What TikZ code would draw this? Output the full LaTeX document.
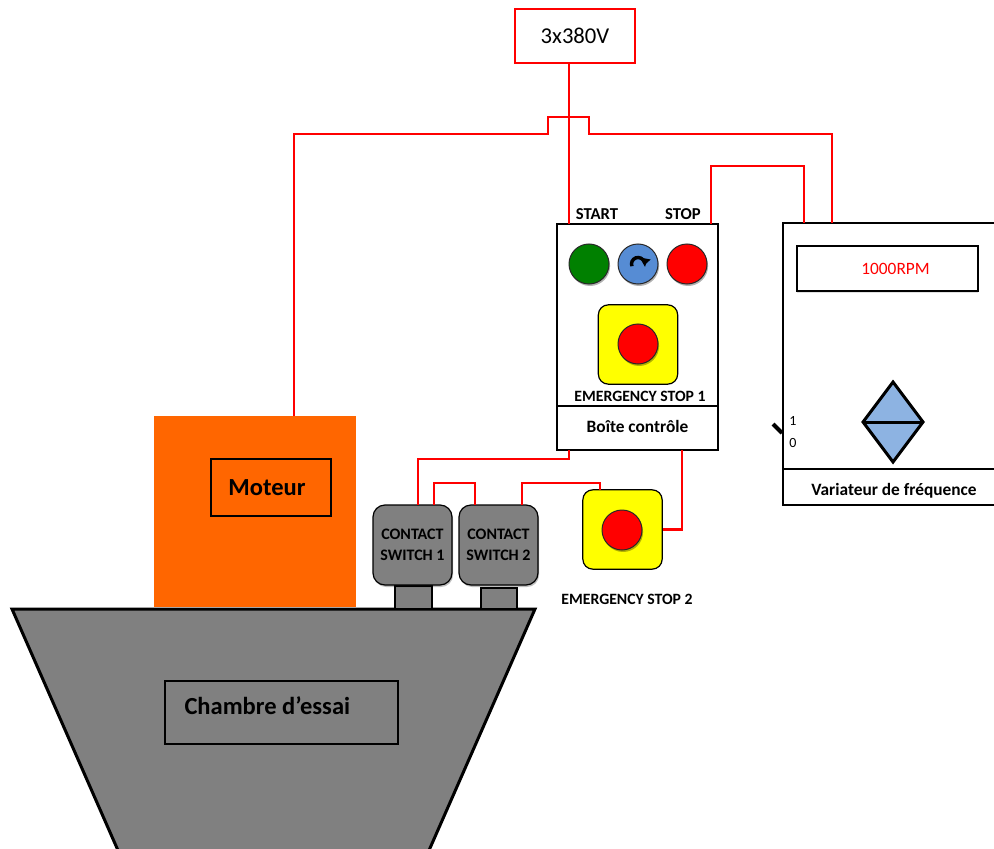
\documentclass[tikz,border=0pt]{standalone}
\usepackage{fontspec}
\setmainfont{Carlito}
\usetikzlibrary{shadows,arrows.meta}

\tikzset{every picture/.style={line width=0.75pt}}
\tikzset{
  wire/.style={draw={rgb, 255:red, 255; green, 0; blue, 0}, line width=1.6pt},
  panel/.style={draw, line width=1.2pt, fill=white, inner sep=0pt},
  knob/.style={circle, draw={rgb, 255:red, 40; green, 40; blue, 40}, line width=0.75pt, minimum size=30pt, inner sep=0pt,
    drop shadow={shadow xshift=0.8pt, shadow yshift=-1.5pt, fill=black, opacity=0.3}},
  estop/.style={draw, line width=0.9pt, rounded corners=7.5pt, fill={rgb, 255:red, 255; green, 255; blue, 0}, minimum size=59.5pt, inner sep=0pt},
  switchbox/.style={draw, line width=0.9pt, rounded corners=9pt, fill={rgb, 255:red, 128; green, 128; blue, 128}, minimum width=59.25pt, minimum height=60pt,
    align=center, font=\bfseries\fontsize{12}{15.75}\selectfont,
    drop shadow={shadow xshift=0.8pt, shadow yshift=-1.5pt, fill=black, opacity=0.25}},
  small/.style={font=\bfseries\fontsize{11.8}{13}\selectfont, inner sep=0.75pt},
  title/.style={font=\bfseries\fontsize{13}{15}\selectfont, inner sep=0.75pt},
  big/.style={font=\bfseries\fontsize{18.4}{21}\selectfont, inner sep=0.75pt}
}

\begin{document}
\begin{tikzpicture}[x=0.75pt,y=0.75pt,yscale=-1,xscale=1]
\useasboundingbox (0,0) rectangle (994,848);

%Shape: Trapezoid [chamber]
\draw [line width=2.25pt, fill={rgb, 255:red, 128; green, 128; blue, 128}] (12,609) -- (535,609) -- (420.4,870) -- (126.6,870) -- cycle;
\node [draw, line width=1.1pt, minimum width=174.75pt, minimum height=47.25pt] (chamberlbl) at (281.5,712.5) {};
\node [big, anchor=west] (chambertxt) at (183,706) {Chambre d’essai};

%Shape: Rectangle [motor]
\node [fill={rgb, 255:red, 255; green, 102; blue, 0}, minimum width=151.5pt, minimum height=143.25pt] (motor) at (255,511.5) {};
\node [draw, line width=1.1pt, minimum width=90pt, minimum height=42.75pt, big] (motorlbl) at (271,487.5) {\hspace{-6pt}Moteur};

%Supply
\node [draw={rgb, 255:red, 255; green, 0; blue, 0}, line width=1.1pt, minimum width=90pt, minimum height=40.5pt, font=\fontsize{17}{20}\selectfont] (supply) at (575,36) {3x380V};

%Control box
\node [panel, minimum width=120.75pt, minimum height=169.5pt,
  drop shadow={shadow xshift=1pt, shadow yshift=-1pt, fill=black, opacity=0.2}] (ctrl) at (637.5,337) {};
\draw [line width=1.2pt] (ctrl.west |- 0,406) -- (ctrl.east |- 0,406);
\node [knob, fill={rgb, 255:red, 0; green, 128; blue, 0}] (start) at (589,264) {};
\node [knob, fill={rgb, 255:red, 86; green, 140; blue, 212}] (reset) at (638,264) {};
\node [knob, fill={rgb, 255:red, 255; green, 0; blue, 0}] (stop) at (687,264) {};
\draw [line width=2.6pt, -{Triangle[length=5pt,width=7.5pt]}] ([shift={(160:6.5)}]reset.center) arc [start angle=160, end angle=370, radius=6.5];
\node [estop] (es1) at (638,344.5) {};
\node [knob, fill={rgb, 255:red, 255; green, 0; blue, 0}] (es1btn) at (638,344) {};
\node [small] (es1lbl) at (640,396) {EMERGENCY STOP 1};
\node [title] (ctrllbl) at (637.5,426) {Boîte contrôle};
\node [title, font=\bfseries\fontsize{12.5}{15}\selectfont] (startlbl) at (597,214) {START};
\node [title, font=\bfseries\fontsize{12.5}{15}\selectfont] (stoplbl) at (683,214) {STOP};

%Frequency drive
\node [panel, minimum width=170.25pt, minimum height=211.5pt,
  drop shadow={shadow xshift=1pt, shadow yshift=-1pt, fill=black, opacity=0.2}] (vfd) at (896.5,364) {};
\draw [line width=1.2pt] (vfd.west |- 0,469) -- (vfd.east |- 0,469);
\node [draw, line width=0.9pt, minimum width=135.75pt, minimum height=33.75pt,
  drop shadow={shadow xshift=0pt, shadow yshift=-1.2pt, fill=black, opacity=0.12},
  fill=white, text={rgb, 255:red, 255; green, 0; blue, 0}, font=\fontsize{13}{15}\selectfont] (display) at (887.5,268.5) {\hspace{12pt}1000RPM};
\draw [line width=2.25pt, fill={rgb, 255:red, 141; green, 179; blue, 226}, line join=miter] (893,382) -- (923,422) -- (893,462) -- (863,422) -- cycle;
\draw [line width=2.25pt] (863,422) -- (923,422);
\draw [line width=3pt] (773,424) -- (782,433);
\node [inner sep=0.75pt, font=\fontsize{10.5}{12}\selectfont] (on) at (793,421) {1};
\node [inner sep=0.75pt, font=\fontsize{10.5}{12}\selectfont] (off) at (793,443) {0};
\node [title] (vfdlbl) at (894,491) {Variateur de fréquence};

%Contact switches
\draw [line width=0.9pt, fill={rgb, 255:red, 128; green, 128; blue, 128}] (395,586) rectangle (432,609);
\draw [line width=0.9pt, fill={rgb, 255:red, 128; green, 128; blue, 128}] (481,588) rectangle (517,609);
\node [switchbox] (cs1) at (412.5,545) {CONTACT\\SWITCH 1};
\node [switchbox] (cs2) at (498.5,545) {CONTACT\\SWITCH 2};

%Emergency stop 2
\node [estop] (es2) at (622.5,529.5) {};
\node [knob, fill={rgb, 255:red, 255; green, 0; blue, 0}] (es2btn) at (622,530) {};
\node [small] (es2lbl) at (627,599) {EMERGENCY STOP 2};

%Ports
\coordinate (ctrl-start) at (569,224);
\coordinate (ctrl-stop) at (711,224);
\coordinate (ctrl-out1) at (569,450);
\coordinate (ctrl-out2) at (682,450);
\coordinate (vfd-in1) at (832,223);
\coordinate (vfd-in2) at (804,223);
\coordinate (motor-in) at (294,416);
\coordinate (cs1-a) at (418,505);
\coordinate (cs1-b) at (434,505);
\coordinate (cs2-a) at (475,505);
\coordinate (cs2-b) at (522,505);
\coordinate (es2-in) at (600,490);

%Wires
\draw [wire] (supply.south -| ctrl-start) -- (ctrl-start);
\draw [wire] (motor-in) |- (548,134) |- (589,117) -- (589,134) -| (vfd-in1);
\draw [wire] (ctrl-stop) -- ++(0,-58) -| (vfd-in2);
\draw [wire] (ctrl-out1) -- ++(0,9) -| (cs1-a);
\draw [wire] (cs1-b) -- ++(0,-22) -| (cs2-a);
\draw [wire] (cs2-b) -- ++(0,-22) -| (es2-in);
\draw [wire] (ctrl-out2) |- (es2.east);

\end{tikzpicture}
\end{document}
